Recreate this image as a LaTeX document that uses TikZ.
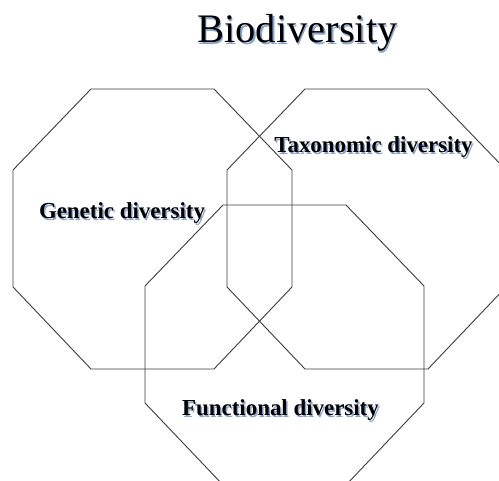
\documentclass[tikz,border=0pt]{standalone}
\usepackage{fontspec}
\setmainfont{Liberation Serif}
\definecolor{shadowcol}{RGB}{140,165,205}
\definecolor{linecol}{RGB}{60,60,60}
\newcommand{\shadowed}[1]{\rlap{\hspace{1.5pt}\raisebox{-1.5pt}{\textcolor{shadowcol}{#1}}}#1}
\tikzset{
  octo/.style={draw=linecol, line width=0.9pt, line join=miter},
  lbl/.style={font=\bfseries\fontsize{22.9}{26}\selectfont, anchor=base, inner sep=0pt, text=black},
  ttl/.style={font=\fontsize{40.5}{48}\selectfont, anchor=base, inner sep=0pt, text=black}
}
\newcommand{\octagonat}[2]{%
  \draw[octo] (#1+78,#2) -- (#1+201,#2) -- (#1+279,#2+81) -- (#1+279,#2+198)
    -- (#1+201,#2+280) -- (#1+78,#2+280) -- (#1,#2+198) -- (#1,#2+81) -- cycle;}
\begin{document}
\begin{tikzpicture}[x=1pt,y=-1pt]
\useasboundingbox (0,0) rectangle (499,481);
\fill[white] (0,0) rectangle (499,481);
\begin{scope}
\clip (0,0) rectangle (499,481);
\octagonat{13}{89}
\octagonat{227}{89}
\octagonat{145}{205}
\end{scope}
% title
\node[ttl] (title) at (297.5,43) {\shadowed{Biodiversity}};
% labels
\node[lbl] (gen) at (122,219) {\shadowed{Genetic diversity}};
\node[lbl] (tax) at (373.5,153) {\shadowed{Taxonomic diversity}};
\node[lbl] (fun) at (280.5,416) {\shadowed{Functional diversity}};
\end{tikzpicture}
\end{document}
